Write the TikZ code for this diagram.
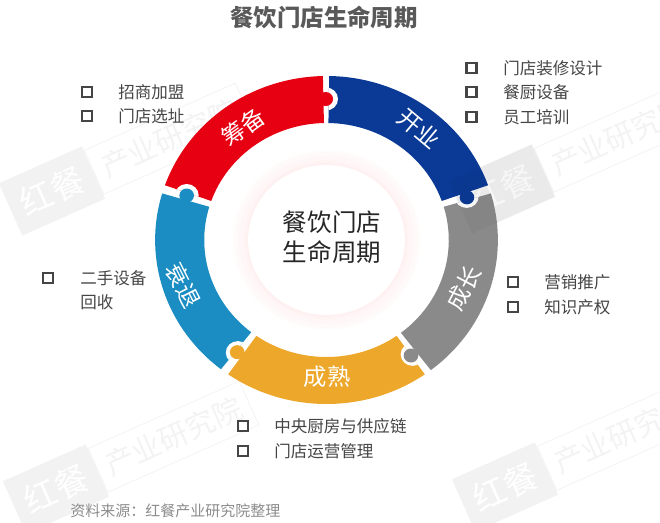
\documentclass[tikz,border=0pt]{standalone}
\usepackage{fontspec}
\setmainfont{Noto Sans CJK SC}
\definecolor{ringred}{HTML}{E60012}
\definecolor{ringnavy}{HTML}{0B3A96}
\definecolor{ringgrey}{HTML}{8A8A8A}
\definecolor{ringorange}{HTML}{EDA72A}
\definecolor{ringblue}{HTML}{1B8DC2}
\definecolor{itemgrey}{HTML}{454545}
\definecolor{wmgrey}{HTML}{F2F2F2}
\definecolor{wmtext}{HTML}{F3F3F3}
\def\sectorpath#1#2{(#1:164) arc[start angle=#1,end angle=#2,radius=164] -- (#2:117) arc[start angle=#2,end angle=#1,radius=117] -- cycle}
\begin{document}
\begin{tikzpicture}
		[x=0.75pt,y=0.75pt,
		ringlabel/.style={text=white,font=\fontsize{17.5pt}{20pt}\selectfont,inner sep=0pt},
		itembox/.style={draw=itemgrey,line width=1.8pt,minimum size=7.6pt,inner sep=0pt},
		itemtext/.style={anchor=west,text=itemgrey,font=\fontsize{12.4pt}{15pt}\selectfont,inner sep=0pt},
		wmblock/.style={fill=wmgrey,rotate=24,minimum width=68pt,minimum height=43pt,inner sep=0pt,text=white,font=\fontsize{25pt}{28pt}\selectfont},
		wmtag/.style={draw=wmtext,line width=0.6pt,rotate=24,anchor=west,minimum width=124pt,minimum height=36pt,inner sep=0pt,text=wmtext,font=\fontsize{22pt}{25pt}\selectfont}]
		\useasboundingbox (0,0) rectangle (660,-522);
		% watermarks
		\foreach \i/\x/\y in {1/52/191,2/56/489,3/502/189,4/505/487}
		{
			\node[wmblock] (wm\i) at (\x,-\y) {红餐};
			\node[wmtag] (tag\i) at (wm\i.east) {产业研究院};
		}
		% ring
		\begin{scope}[shift={(326.5,-240)},xscale=1.045]
			\foreach \r/\m in {90/1,88/2,86/2,84/3,82/3,80/4,78/5,76/6}
			{
				\fill[red!\m!white] (0,0) circle (\r);
			}
			\fill[white] (0,0) circle (75);
			\foreach \from/\to/\col in {91.2/160.5/ringred,163.5/232/ringblue,235/305/ringorange,307.5/376.5/ringgrey,19.5/89.1/ringnavy}
			{
				\fill[\col] \sectorpath{\from}{\to};
			}
			% notches
			\foreach \ang/\from/\to in {90.2/19.5/89.1,18/307.5/376.5,305.8/235/305,233/163.5/232,161.6/91.2/160.5}
			{
				\begin{scope}
					\clip \sectorpath{\from}{\to};
					\fill[white] (\ang:141) circle (11.5);
				\end{scope}
			}
			% knobs
			\foreach \ang/\col in {90.3/ringred,17.6/ringnavy,305/ringgrey,232.7/ringorange,161.6/ringblue}
			{
				\fill[\col] (\ang:141) circle (7);
			}
		\end{scope}
		\node[wmblock,fill=black,fill opacity=0.03] (wmover) at (502,-189) {};
		% ring labels
		\node[ringlabel,rotate=36] (prep) at (243,-127) {筹备};
		\node[ringlabel,rotate=-40] (open) at (419,-129) {开业};
		\node[ringlabel,rotate=62] (grow) at (464,-288) {成长};
		\node[ringlabel] (mature) at (327,-377) {成熟};
		\node[ringlabel,rotate=-63] (decline) at (183,-285) {衰退};
		% center and title
		\node[text=black!85,align=center,font=\fontsize{18.4pt}{22.5pt}\selectfont,inner sep=0pt] (hub) at (332,-237) {餐饮门店\\生命周期};
		\node[text=black!65,font=\fontsize{17.6pt}{20pt}\selectfont\bfseries,inner sep=0pt] (title) at (324,-17) {餐饮门店生命周期};
		% items
		\foreach \bx/\tx/\y/\t [count=\i] in {87/118/92/招商加盟,87/118/116/门店选址,471.5/503/68/门店装修设计,471.5/503/92/餐厨设备,471.5/503/117/员工培训,513/544/282/营销推广,513/544/307/知识产权,48/80/278/二手设备,243/274/426/中央厨房与供应链,243/274/451/门店运营管理}
		{
			\node[itembox] (box\i) at (\bx,-\y) {};
			\node[itemtext] (item\i) at (\tx,-\y) {\t};
		}
		\node[itemtext] (itemb) at (80,-302) {回收};
		\node[anchor=west,text=black!45,font=\fontsize{11.25pt}{14pt}\selectfont,inner sep=0pt] (source) at (70,-511) {资料来源：红餐产业研究院整理};
	\end{tikzpicture}
\end{document}
